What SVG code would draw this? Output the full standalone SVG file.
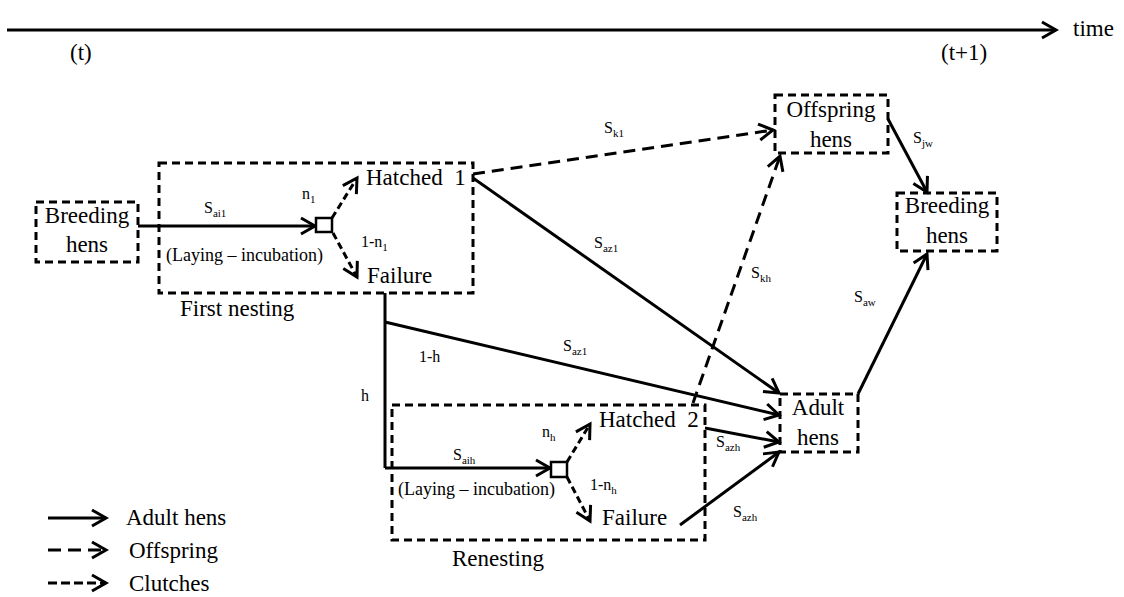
<svg xmlns="http://www.w3.org/2000/svg" width="1124" height="597" viewBox="0 0 1124 597" font-family="'Liberation Serif', 'Times New Roman', serif">
<style>
text{font-family:"Liberation Serif","Times New Roman",serif;fill:#000}
.big{font-size:23px}
.mid{font-size:18px}
.lbl{font-size:16px}
.sub{font-size:11px}
.box{fill:none;stroke:#000;stroke-width:3;stroke-dasharray:8 5}
.solid{fill:none;stroke:#000;stroke-width:3;marker-end:url(#ah)}
.line{fill:none;stroke:#000;stroke-width:3}
.off{fill:none;stroke:#000;stroke-width:3;stroke-dasharray:12 7;marker-end:url(#ah)}
.clu{fill:none;stroke:#000;stroke-width:3;stroke-dasharray:7 4;marker-end:url(#ah)}
.sq{fill:#fff;stroke:#000;stroke-width:2.5}
</style>
<defs>
<marker id="ah" markerUnits="userSpaceOnUse" markerWidth="20" markerHeight="20" viewBox="-16 -10 20 20" refX="0" refY="0" orient="auto" overflow="visible">
<path d="M-14,-8 L0,0 L-14,8" fill="none" stroke="#000" stroke-width="3" stroke-dasharray="none"/>
</marker>
</defs>
<rect width="1124" height="597" fill="#fff"/>

<g id="timeline">
<path class="solid" d="M7,30 L1056,30"/>
<text class="big" x="1073" y="36">time</text>
<text class="big" x="70" y="60">(t)</text>
<text class="big" x="941" y="60">(t+1)</text>
</g>

<g id="connectors">
<path class="solid" d="M138,226 L315,226"/>
<path class="clu" d="M332,218 L357,178"/>
<path class="clu" d="M333,233 L357,277"/>
<path class="off" d="M473,174 L773,130"/>
<path class="solid" d="M473,178 L779,393"/>
<path class="line" d="M385,293 L385,468"/>
<path class="solid" d="M385,322 L779,415"/>
<path class="solid" d="M385,468 L550,468"/>
<path class="clu" d="M567,462 L590,424"/>
<path class="clu" d="M567,477 L590,521"/>
<path class="off" d="M693,403 L780,156"/>
<path class="solid" d="M705,428 L779,442"/>
<path class="solid" d="M680,525 L779,452"/>
<path class="solid" d="M888,119 L927,192"/>
<path class="solid" d="M858,394 L927,254"/>
</g>

<g id="labels">
<text class="lbl" x="204" y="213">S<tspan class="sub" dy="4">ai1</tspan></text>
<text class="lbl" x="302" y="199">n<tspan class="sub" dy="4">1</tspan></text>
<text class="lbl" x="361" y="247">1-n<tspan class="sub" dy="4">1</tspan></text>
<text class="mid" x="166" y="261">(Laying – incubation)</text>
<text class="lbl" x="604" y="133">S<tspan class="sub" dy="4">k1</tspan></text>
<text class="lbl" x="594" y="248">S<tspan class="sub" dy="4">az1</tspan></text>
<text class="lbl" x="751" y="278">S<tspan class="sub" dy="4">kh</tspan></text>
<text class="lbl" x="563" y="351">S<tspan class="sub" dy="4">az1</tspan></text>
<text class="lbl" x="419" y="362">1-h</text>
<text class="lbl" x="361" y="401">h</text>
<text class="lbl" x="453" y="460">S<tspan class="sub" dy="4">aih</tspan></text>
<text class="lbl" x="542" y="437">n<tspan class="sub" dy="4">h</tspan></text>
<text class="lbl" x="590" y="490">1-n<tspan class="sub" dy="4">h</tspan></text>
<text class="mid" x="398" y="495">(Laying – incubation)</text>
<text class="lbl" x="716" y="447">S<tspan class="sub" dy="4">azh</tspan></text>
<text class="lbl" x="733" y="517">S<tspan class="sub" dy="4">azh</tspan></text>
<text class="lbl" x="913" y="143">S<tspan class="sub" dy="4">jw</tspan></text>
<text class="lbl" x="854" y="302">S<tspan class="sub" dy="4">aw</tspan></text>
</g>

<g id="breeding-hens-t">
<rect class="box" x="36" y="202" width="102" height="60"/>
<text class="big" x="87" y="223" text-anchor="middle">Breeding</text>
<text class="big" x="87" y="252" text-anchor="middle">hens</text>
</g>

<g id="first-nesting">
<rect class="box" x="159" y="163" width="314" height="130"/>
<text class="big" x="180" y="316">First nesting</text>
<rect class="sq" x="316" y="218" width="16" height="14"/>
<text class="big" x="366" y="185" xml:space="preserve">Hatched  1</text>
<text class="big" x="367" y="283">Failure</text>
</g>

<g id="renesting">
<rect class="box" x="392" y="405" width="313" height="135"/>
<text class="big" x="452" y="566">Renesting</text>
<rect class="sq" x="551" y="462" width="16" height="15"/>
<text class="big" x="599" y="427" xml:space="preserve">Hatched  2</text>
<text class="big" x="602" y="525">Failure</text>
</g>

<g id="offspring-hens">
<rect class="box" x="775" y="95" width="113" height="58"/>
<text class="big" x="831" y="117" text-anchor="middle">Offspring</text>
<text class="big" x="831" y="147" text-anchor="middle">hens</text>
</g>

<g id="adult-hens">
<rect class="box" x="780" y="394" width="78" height="58"/>
<text class="big" x="818" y="415" text-anchor="middle">Adult</text>
<text class="big" x="818" y="445" text-anchor="middle">hens</text>
</g>

<g id="breeding-hens-t1">
<rect class="box" x="897" y="193" width="100" height="58"/>
<text class="big" x="947" y="213" text-anchor="middle">Breeding</text>
<text class="big" x="947" y="243" text-anchor="middle">hens</text>
</g>

<g id="legend">
<path class="solid" d="M48,518 L106,518"/>
<text class="big" x="126" y="525">Adult hens</text>
<path style="fill:none;stroke:#000;stroke-width:3;stroke-dasharray:13 7;marker-end:url(#ah)" d="M48,550 L106,550"/>
<text class="big" x="129" y="558">Offspring</text>
<path style="fill:none;stroke:#000;stroke-width:3;stroke-dasharray:9 4;marker-end:url(#ah)" d="M48,583 L106,583"/>
<text class="big" x="129" y="591">Clutches</text>
</g>
</svg>
